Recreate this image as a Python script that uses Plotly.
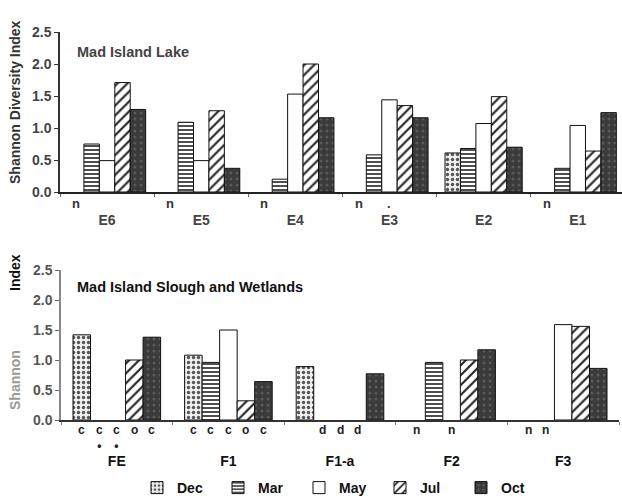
import plotly.graph_objects as go

months = ["Dec", "Mar", "May", "Jul", "Oct"]

lake_sites = ["E6", "E5", "E4", "E3", "E2", "E1"]
lake_dec = [None, None, None, None, 0.61, None]
lake_mar = [0.75, 1.09, 0.20, 0.58, 0.68, 0.37]
lake_may = [0.49, 0.49, 1.53, 1.44, 1.07, 1.04]
lake_jul = [1.71, 1.27, 2.00, 1.35, 1.49, 0.64]
lake_oct = [1.29, 0.37, 1.16, 1.16, 0.70, 1.24]
lake_marks = [
    ["n", "", "", "", ""],
    ["n", "", "", "", ""],
    ["n", "", "", "", ""],
    ["n", "", ".", "", ""],
    ["", "", "", "", ""],
    ["n", "", "", "", ""],
]

slough_sites = ["FE", "F1", "F1-a", "F2", "F3"]
slough_dec = [1.42, 1.08, 0.89, None, None]
slough_mar = [None, 0.96, None, 0.96, None]
slough_may = [None, 1.50, None, None, 1.59]
slough_jul = [1.00, 0.32, None, 1.00, 1.56]
slough_oct = [1.38, 0.64, 0.77, 1.17, 0.86]
slough_marks = [
    ["c", "c<br>•", "c<br>•", "o", "c"],
    ["c", "c", "c", "o", "c"],
    ["", "d", "d", "d", ""],
    ["n", "", "n", "", ""],
    ["n", "n", "", "", ""],
]

y_ticks = [0.0, 0.5, 1.0, 1.5, 2.0, 2.5]

styles = {
    "Dec": dict(color="#ececec", pattern=dict(shape=".", fgcolor="#555", bgcolor="#f0f0f0", size=5, solidity=0.35)),
    "Mar": dict(color="white", pattern=dict(shape="-", fgcolor="#222", bgcolor="white", size=4, solidity=0.4)),
    "May": dict(color="white"),
    "Jul": dict(color="white", pattern=dict(shape="/", fgcolor="#222", bgcolor="white", size=7, solidity=0.3)),
    "Oct": dict(color="#3d3d3d", pattern=dict(shape=".", fgcolor="#5a5a5a", bgcolor="#3a3a3a", size=6, solidity=0.2)),
}

W, H = 622, 496
FONT = "Liberation Sans"

fig = go.Figure()

lake_series = [lake_dec, lake_mar, lake_may, lake_jul, lake_oct]
slough_series = [slough_dec, slough_mar, slough_may, slough_jul, slough_oct]

w_top = 0.164
w_bot = 0.157

for i, (m, vals) in enumerate(zip(months, lake_series)):
    st = styles[m]
    fig.add_trace(go.Bar(
        x=lake_sites, y=vals, name=m, showlegend=False,
        width=w_top, offset=-2.5 * w_top + i * w_top,
        marker=dict(color=st["color"], line=dict(color="#111", width=1),
                    pattern=st.get("pattern")),
        xaxis="x", yaxis="y",
    ))

for i, (m, vals) in enumerate(zip(months, slough_series)):
    st = styles[m]
    fig.add_trace(go.Bar(
        x=slough_sites, y=vals, name=m, showlegend=True,
        width=w_bot, offset=-2.5 * w_bot + i * w_bot,
        marker=dict(color=st["color"], line=dict(color="#111", width=1),
                    pattern=st.get("pattern")),
        xaxis="x2", yaxis="y2",
    ))

annotations = []
for gi, marks in enumerate(lake_marks):
    for i, t in enumerate(marks):
        if t:
            annotations.append(dict(
                x=gi - 2.5 * w_top + (i + 0.5) * w_top, y=0, xref="x", yref="y",
                text=t, showarrow=False, yanchor="top", yshift=-2,
                font=dict(family=FONT, size=13, color="#333", weight="bold")))
for gi, marks in enumerate(slough_marks):
    for i, t in enumerate(marks):
        if t:
            annotations.append(dict(
                x=gi - 2.5 * w_bot + (i + 0.5) * w_bot, y=0, xref="x2", yref="y2",
                text=t, showarrow=False, yanchor="top", yshift=-1,
                font=dict(family=FONT, size=12, color="#222", weight="bold")))

annotations += [
    dict(x=75 / W, y=1 - 52 / H, xref="paper", yref="paper", xanchor="left", yanchor="middle",
         text="Mad Island Lake", showarrow=False,
         font=dict(family=FONT, size=14.5, color="#444", weight="bold")),
    dict(x=75 / W, y=1 - 287 / H, xref="paper", yref="paper", xanchor="left", yanchor="middle",
         text="Mad Island Slough and Wetlands", showarrow=False,
         font=dict(family=FONT, size=14.5, color="#111", weight="bold")),
    dict(x=15 / W, y=1 - 102 / H, xref="paper", yref="paper", xanchor="center", yanchor="middle",
         text="Shannon Diversity Index", textangle=-90, showarrow=False,
         font=dict(family=FONT, size=14, color="#333", weight="bold")),
    dict(x=15 / W, y=1 - 272 / H, xref="paper", yref="paper", xanchor="center", yanchor="middle",
         text="Index", textangle=-90, showarrow=False,
         font=dict(family=FONT, size=14, color="#111", weight="bold")),
    dict(x=15 / W, y=1 - 380 / H, xref="paper", yref="paper", xanchor="center", yanchor="middle",
         text="Shannon", textangle=-90, showarrow=False,
         font=dict(family=FONT, size=14, color="#999", weight="bold")),
]

fig.update_layout(
    template="none",
    width=W, height=H,
    margin=dict(l=0, r=0, t=0, b=0, autoexpand=False),
    paper_bgcolor="white", plot_bgcolor="white",
    barmode="overlay",
    font=dict(family=FONT),
    xaxis=dict(domain=[60 / W, 1.0], range=[-0.5, 5.47], anchor="y", automargin=False,
               linecolor="#222", linewidth=1.5, ticks="outside", tickson="boundaries",
               ticklen=3, tickcolor="#666", ticklabelstandoff=14,
               tickfont=dict(family=FONT, size=14, color="#444", weight="bold"),
               showgrid=False, zeroline=False, showline=True),
    yaxis=dict(domain=[1 - 192 / H, 1 - 32 / H], range=[0, 2.5], anchor="x", automargin=False,
               tickvals=y_ticks, ticktext=[f"{v:.1f}" for v in y_ticks],
               linecolor="#333", linewidth=1.5, ticks="outside", ticklen=4, tickcolor="#333",
               tickfont=dict(family=FONT, size=14, color="#444", weight="bold"),
               showgrid=False, zeroline=False, showline=True),
    xaxis2=dict(domain=[61 / W, 619 / W], range=[-0.5, 4.5], anchor="y2", automargin=False,
                linecolor="#333", linewidth=1.5, ticks="outside", tickson="boundaries",
                ticklen=3, tickcolor="#777", ticklabelstandoff=27,
                tickfont=dict(family=FONT, size=14, color="#111", weight="bold"),
                showgrid=False, zeroline=False, showline=True),
    yaxis2=dict(domain=[1 - 420 / H, 1 - 270 / H], range=[0, 2.5], anchor="x2", automargin=False,
                tickvals=y_ticks, ticktext=[f"{v:.1f}" for v in y_ticks],
                linecolor="#888", linewidth=1.5, ticks="outside", ticklen=4, tickcolor="#666",
                tickfont=dict(family=FONT, size=14, color="#555", weight="bold"),
                showgrid=False, zeroline=False, showline=True),
    legend=dict(orientation="h", x=137 / W, y=1 - 488 / H, xanchor="left", yanchor="middle",
                font=dict(family=FONT, size=14, color="#111", weight="bold"),
                entrywidth=36, entrywidthmode="pixels", itemwidth=30,
                bgcolor="rgba(0,0,0,0)", traceorder="normal"),
    annotations=annotations,
)

fig.write_html("out.html", config={"displayModeBar": False},
               post_script="document.body.style.margin='0';document.body.style.overflow='hidden';")
